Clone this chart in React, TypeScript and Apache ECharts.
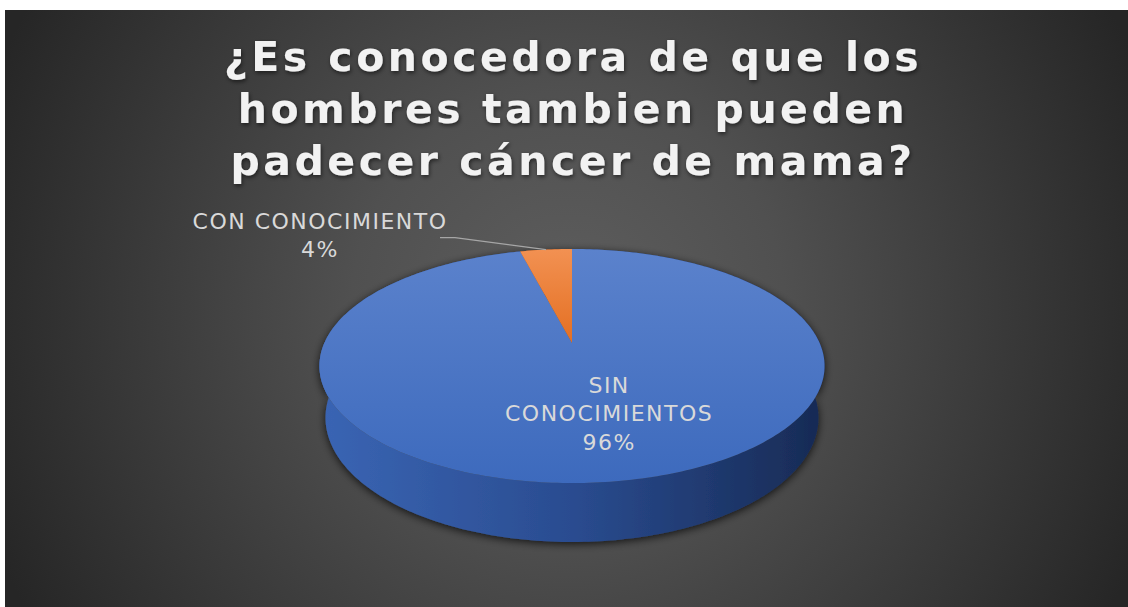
import React, { useEffect, useRef } from "react";
import * as echarts from "echarts";

// ---- data ----
const titleLines = ["¿Es conocedora de que los", "hombres tambien pueden", "padecer cáncer de mama?"];
const categories = ["SIN CONOCIMIENTOS", "CON CONOCIMIENTO"];
const labelNames = ["SIN\nCONOCIMIENTOS", "CON CONOCIMIENTO"];
const shares = [96, 4];

// ---- styles ----
const topColors = [
  ["#5b82cc", "#3d6abd"],
  ["#f29152", "#e46f22"],
];
const sideColors = [
  ["#3a65b4", "#2a4c90", "#172a54"],
  ["#c05a18", "#a04a12", "#7a380c"],
];

const W = 1123;
const H = 597;
const CX = 567;
const CY = 333;
// perspective parameters
const K = 0.2207;
const SIN_A = 0.4543;
const COS_A = 0.891;
const HN = 0.0521;
const F = 1122;

function proj(th: number, Y: number, rho = 1): number[] {
  const X = rho * K * Math.sin(th);
  const Z = rho * K * Math.cos(th);
  const zc = 1 - Y * SIN_A + Z * COS_A;
  const yc = Y * COS_A + Z * SIN_A;
  return [CX + (F * X) / zc, CY - (F * yc) / zc];
}

const total = shares.reduce((a, b) => a + b, 0);
const starts: number[] = [];
{
  let acc = 0;
  for (const v of shares) {
    starts.push((acc / total) * Math.PI * 2);
    acc += v;
  }
}

const labelFont = "DejaVu Sans";

function renderItem(params: any, api: any) {
  const i = params.dataIndex;
  const v = api.value(0);
  const t1 = starts[i];
  const t2 = t1 + (v / total) * Math.PI * 2;
  const n = Math.max(4, Math.ceil(((t2 - t1) * 180) / Math.PI));
  const topArc: number[][] = [];
  const botArc: number[][] = [];
  for (let k = 0; k <= n; k++) {
    const th = t1 + ((t2 - t1) * k) / n;
    topArc.push(proj(th, 0));
    botArc.push(proj(th, -HN));
  }
  const sidePts = topArc.concat(botArc.slice().reverse());
  const topPts = [proj(0, 0, 0)].concat(topArc);
  const pct = Math.round((v / total) * 100) + "%";
  const children: any[] = [
    {
      type: "polygon",
      z2: 1,
      shape: { points: sidePts },
      style: {
        fill: {
          type: "linear",
          x: 0,
          y: 0,
          x2: 1,
          y2: 0,
          colorStops: [
            { offset: 0, color: sideColors[i][0] },
            { offset: 0.5, color: sideColors[i][1] },
            { offset: 1, color: sideColors[i][2] },
          ],
        },
        shadowBlur: 8,
        shadowColor: "rgba(0,0,0,0.75)",
        shadowOffsetY: 2,
      },
    },
    {
      type: "polygon",
      z2: 10,
      shape: { points: topPts },
      style: {
        fill: {
          type: "linear",
          x: 0,
          y: 0,
          x2: 0,
          y2: 1,
          colorStops: [
            { offset: 0, color: topColors[i][0] },
            { offset: 1, color: topColors[i][1] },
          ],
        },
      },
    },
  ];
  const mid = (t1 + t2) / 2;
  if (v / total > 0.2) {
    const p = proj(mid, 0, 0.55);
    children.push({
      type: "text",
      z2: 20,
      x: p[0] + 18,
      y: p[1] + 2,
      style: {
        text: labelNames[i] + "\n" + pct,
        fill: "#d9d9d9",
        font: `22px "${labelFont}"`,
        lineHeight: 28.5,
        align: "center",
        verticalAlign: "middle",
      },
    });
  } else {
    const a = proj(mid, 0);
    children.push({
      type: "polyline",
      z2: 20,
      shape: { points: [a, [a[0] - 91, a[1] - 12], [a[0] - 106, a[1] - 12]] },
      style: { stroke: "#a6a6a6", lineWidth: 1.2, fill: null },
    });
    children.push({
      type: "text",
      z2: 20,
      x: a[0] - 226,
      y: a[1] - 14,
      style: {
        text: labelNames[i] + "\n" + pct,
        fill: "#d9d9d9",
        font: `22px "${labelFont}"`,
        lineHeight: 28,
        align: "center",
        verticalAlign: "middle",
      },
    });
  }
  return { type: "group", children };
}

export default function App() {
  const ref = useRef<HTMLDivElement>(null);
  useEffect(() => {
    if (!ref.current) return;
    const chart = echarts.init(ref.current, undefined, { renderer: "svg" });
    chart.setOption({
      animation: false,
      graphic: [
        {
          type: "rect",
          z: -10,
          silent: true,
          shape: { x: 0, y: 0, width: W, height: H },
          style: {
            fill: {
              type: "radial",
              x: 563,
              y: 300,
              r: 620,
              global: true,
              colorStops: [
                { offset: 0, color: "#5e5e5e" },
                { offset: 0.35, color: "#505050" },
                { offset: 1, color: "#262626" },
              ],
            },
          },
        },
        {
          type: "text",
          z: 10,
          x: 568,
          y: 21,
          style: {
            text: titleLines.join("\n"),
            fill: "#f2f2f2",
            font: 'bold 41px "DejaVu Sans"',
            lineHeight: 52,
            align: "center",
            verticalAlign: "top",
            textShadowColor: "rgba(0,0,0,0.55)",
            textShadowBlur: 4,
            textShadowOffsetX: 1,
            textShadowOffsetY: 2,
          },
        },
      ],
      series: [
        {
          type: "custom",
          coordinateSystem: "none",
          renderItem,
          data: shares.map((v, i) => ({ name: categories[i], value: [v] })),
        },
      ],
    });
    const labelSet = new Set<string>();
    labelNames.forEach((l, i) => {
      l.split("\n").forEach((s) => labelSet.add(s));
      labelSet.add(Math.round((shares[i] / total) * 100) + "%");
    });
    const applySpacing = () => {
      ref.current?.querySelectorAll("text").forEach((t) => {
        const s = (t.textContent || "").trim();
        if (titleLines.includes(s)) (t as any).style.letterSpacing = "3.5px";
        else if (labelSet.has(s)) (t as any).style.letterSpacing = "1.5px";
      });
    };
    applySpacing();
    const raf = requestAnimationFrame(applySpacing);
    return () => {
      cancelAnimationFrame(raf);
      chart.dispose();
    };
  }, []);
  return (
    <div
      ref={ref}
      style={{ position: "absolute", left: 5, top: 10, width: W, height: H }}
    />
  );
}
